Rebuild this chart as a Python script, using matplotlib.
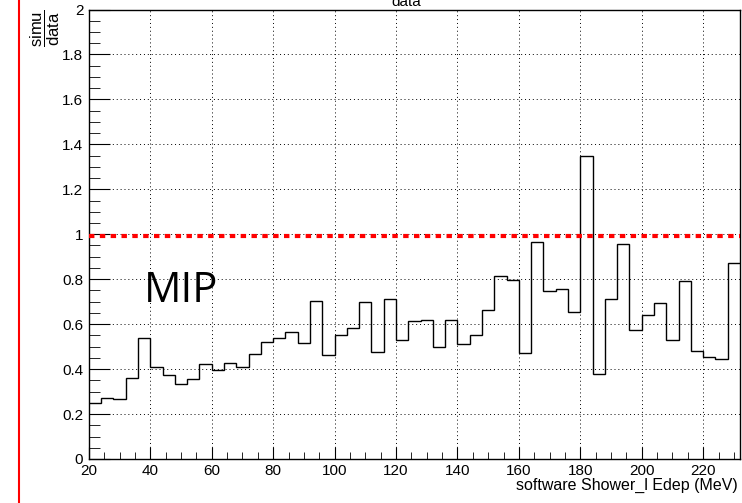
import numpy as np
import matplotlib
matplotlib.use("Agg")
import matplotlib.pyplot as plt
from matplotlib.lines import Line2D
from matplotlib.ticker import MultipleLocator, FuncFormatter

plt.rcParams['font.family'] = ['Liberation Sans', 'DejaVu Sans']
plt.rcParams['mathtext.fontset'] = 'custom'
plt.rcParams['mathtext.rm'] = 'Liberation Sans'

# bin edges: 20 .. 232 MeV, 4 MeV bins
bin_lo = 20
bin_hi = 232
bin_width = 4

# simu/data ratio per bin
ratio = [0.25, 0.273, 0.266, 0.362, 0.54, 0.41, 0.372, 0.335, 0.356, 0.421,
         0.396, 0.426, 0.409, 0.469, 0.522, 0.538, 0.565, 0.516, 0.703, 0.462,
         0.552, 0.583, 0.699, 0.475, 0.713, 0.529, 0.616, 0.618, 0.497, 0.618,
         0.51, 0.552, 0.664, 0.816, 0.795, 0.472, 0.964, 0.749, 0.755, 0.653,
         1.347, 0.377, 0.712, 0.955, 0.575, 0.641, 0.694, 0.529, 0.792, 0.479,
         0.455, 0.445, 0.871]

ref_level = 0.99

edges = np.arange(bin_lo, bin_hi + bin_width, bin_width)

fig = plt.figure(figsize=(7.42, 5.03), dpi=100)
ax = fig.add_axes([88.9 / 742, 1 - 459 / 503, (740 - 88.9) / 742, (459 - 9.5) / 503])

ax.stairs(ratio, edges, baseline=None, color='black', linewidth=1.0, zorder=3)
ax.axhline(ref_level, color='red', linewidth=3.0, linestyle=(0, (1.3, 1.3)), zorder=4)

ax.set_xlim(bin_lo, bin_hi)
ax.set_ylim(0, 2)

ax.xaxis.set_major_locator(MultipleLocator(20))
ax.xaxis.set_minor_locator(MultipleLocator(5))
ax.yaxis.set_major_locator(MultipleLocator(0.2))
ax.yaxis.set_minor_locator(MultipleLocator(0.05))
ax.yaxis.set_major_formatter(FuncFormatter(lambda v, p: '%g' % round(v, 2)))

ax.tick_params(which='both', direction='in', top=False, right=False, labelsize=11)
ax.tick_params(axis='x', which='major', length=9, pad=3.5)
ax.tick_params(axis='x', which='minor', length=5)
ax.tick_params(axis='y', which='major', length=15, pad=4)
ax.tick_params(axis='y', which='minor', length=8)

ax.grid(which='major', color='black', linestyle=(0, (1, 3)), linewidth=0.7)
ax.set_axisbelow(True)
for s in ax.spines.values():
    s.set_linewidth(1.0)

ax.text(144 / 742, 1 - 302 / 503, 'MIP', transform=fig.transFigure,
        fontsize=30, family='Open Sans', ha='left', va='baseline')

fig.text(738 / 742, 1 - 485 / 503, 'software Shower_l Edep (MeV)',
         ha='right', va='center', fontsize=11.5)
fig.text(45 / 742, 1 - 28 / 503, r'$\dfrac{\mathrm{simu}}{\mathrm{data}}$',
         rotation=90, ha='center', va='center', fontsize=12)
fig.text(406 / 742, 1 - 6 / 503, 'data', ha='center', va='baseline', fontsize=11)

fig.add_artist(Line2D([19 / 742, 19 / 742], [0, 1], color='red', linewidth=1.5))

fig.savefig('out.png', dpi=100)
